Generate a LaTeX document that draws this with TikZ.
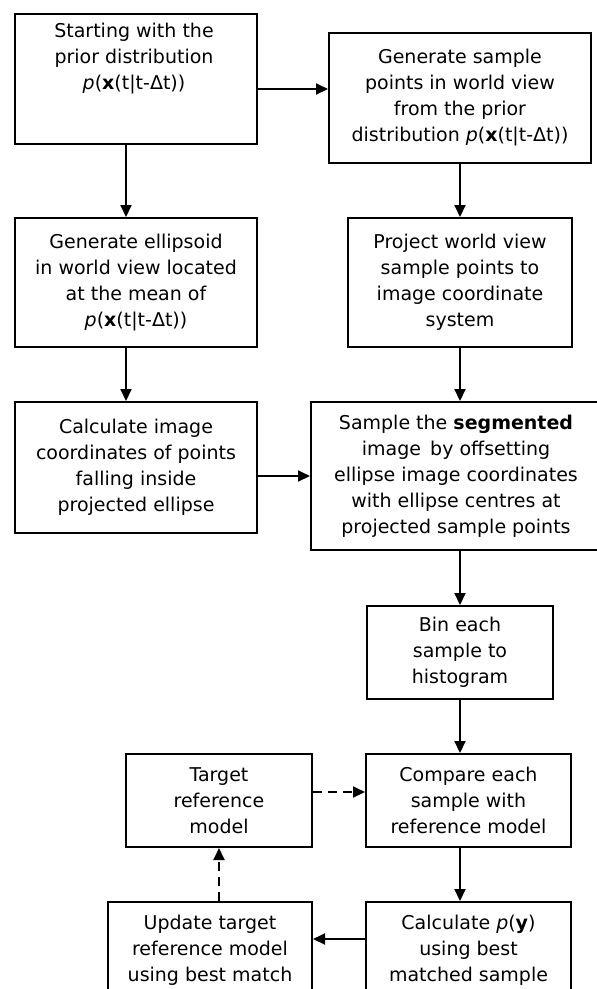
\documentclass[tikz,border=0pt]{standalone}
\usepackage{fontspec}
\setmainfont{DejaVu Sans}
\usetikzlibrary{arrows.meta,calc}
\newcommand\priordist{{\itshape p}({\bfseries x}(t|t-Δt))}
\begin{document}
\begin{tikzpicture}[x=1pt,y=1pt,
  box/.style={draw, line width=2pt, inner sep=0pt, align=center,
    anchor=north west, font=\fontsize{19}{26}\selectfont},
  txt/.style={inner sep=0pt, align=center, font=\fontsize{19}{26}\selectfont},
  arr/.style={line width=2pt, -{Triangle[length=12pt,width=11pt]}},
  darr/.style={arr, dash pattern=on 9pt off 6pt},
]
\useasboundingbox (0,0) rectangle (597,-989);
\clip (0,0) rectangle (597,-989);

% process boxes
\node[box, minimum width=242pt, minimum height=130pt] (b1) at (14,-13) {};
\node[txt] (t1) at ($(b1.north)+(-2,-46)$) {Starting with the\\prior distribution\\\priordist};
\node[box, minimum width=262pt, minimum height=130pt] (b2) at (328,-32)
  {Generate sample\\points in world view\\from the prior\\distribution \priordist};
\node[box, minimum width=242pt, minimum height=129pt] (b3) at (14,-217)
  {Generate ellipsoid\\in world view located\\at the mean of\\\priordist};
\node[box, minimum width=224pt, minimum height=129pt] (b4) at (347,-217)
  {Project world view\\sample points to\\image coordinate\\system};
\node[box, minimum width=242pt, minimum height=131pt] (b5) at (14,-401)
  {Calculate image\\coordinates of points\\falling inside\\projected ellipse};
\node[box, minimum width=290pt, minimum height=148pt] (b6) at (310,-401)
  {Sample the \textbf{segmented}\\image\, by offsetting\\ellipse image coordinates\\with ellipse centres at\\projected sample points};
\node[box, minimum width=186pt, minimum height=93pt] (b7) at (366,-605)
  {Bin each\\sample to\\histogram};
\node[box, minimum width=186pt, minimum height=93pt] (b8) at (125,-753)
  {Target\\reference\\model};
\node[box, minimum width=205pt, minimum height=93pt] (b9) at (365,-753)
  {Compare each\\sample with\\reference model};
\node[box, minimum width=204pt, minimum height=96pt] (b10) at (107,-901)
  {Update target\\reference model\\using best match};
\node[box, minimum width=205pt, minimum height=96pt] (b11) at (365,-901)
  {Calculate {\itshape p}({\bfseries y})\\using best\\matched sample};

% connectors
\draw[arr] ([yshift=-10pt]b1.east) -- ([yshift=-10pt]b1.east -| b2.west);
\draw[arr] ([xshift=-10pt]b1.south) -- ([xshift=-10pt]b3.north);
\draw[arr] ([xshift=-10pt]b3.south) -- ([xshift=-10pt]b5.north);
\draw[arr] (b2.south) -- (b4.north);
\draw[arr] (b4.south) -- (b4.south |- b6.north);
\draw[arr] (b5.east |- b6.west) -- (b6.west);
\draw[arr] (b7.north |- b6.south) -- (b7.north);
\draw[arr] (b7.south) -- (b7.south |- b9.north);
\draw[arr] ([xshift=-8.5pt]b9.south) -- ([xshift=-8.5pt]b11.north);
\draw[darr] ([yshift=8.5pt]b8.east) -- ([yshift=8.5pt]b9.west);
\draw[darr] (b8.south |- b10.north) -- (b8.south);
\draw[arr] ([yshift=11pt]b11.west) -- ([yshift=11pt]b10.east);
\end{tikzpicture}
\end{document}
